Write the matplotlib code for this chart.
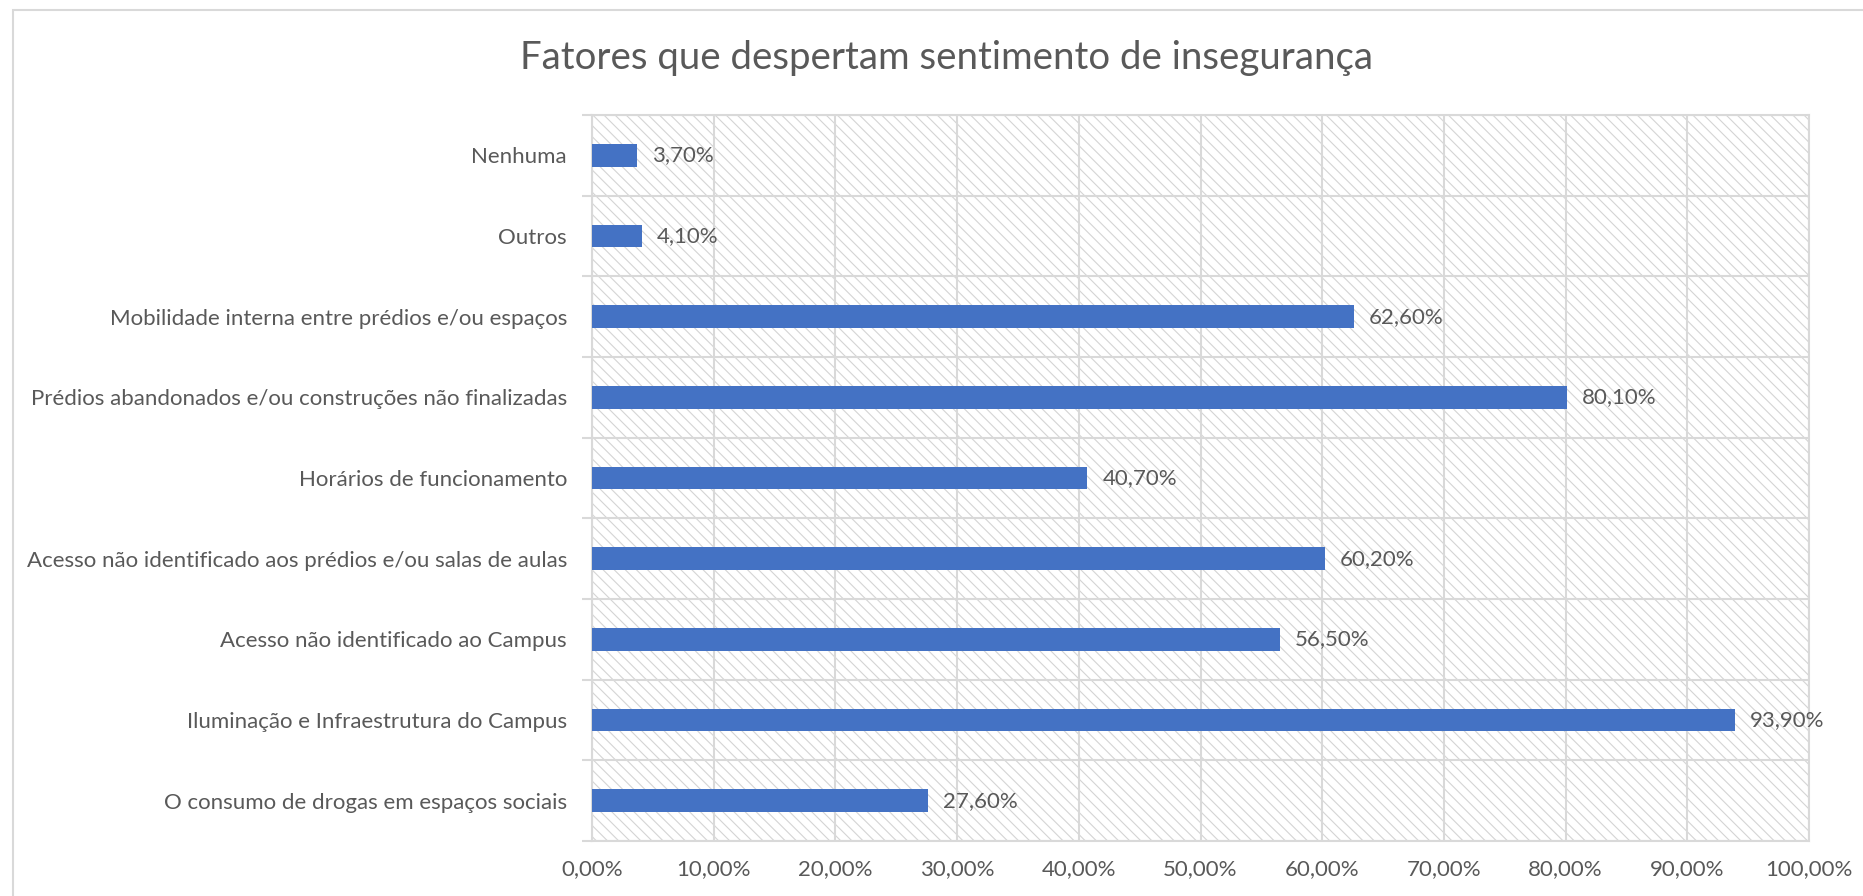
import matplotlib
matplotlib.use("Agg")
import matplotlib.pyplot as plt
from matplotlib.patches import Rectangle
from matplotlib.ticker import FixedLocator, FuncFormatter

categories = [
    "O consumo de drogas em espaços sociais",
    "Iluminação e Infraestrutura do Campus",
    "Acesso não identificado ao Campus",
    "Acesso não identificado aos prédios e/ou salas de aulas",
    "Horários de funcionamento",
    "Prédios abandonados e/ou construções não finalizadas",
    "Mobilidade interna entre prédios e/ou espaços",
    "Outros",
    "Nenhuma",
]
values = [27.60, 93.90, 56.50, 60.20, 40.70, 80.10, 62.60, 4.10, 3.70]
xticks = [0, 10, 20, 30, 40, 50, 60, 70, 80, 90, 100]
title = "Fatores que despertam sentimento de insegurança"

plt.rcParams['font.family'] = ['Lato', 'DejaVu Sans']
plt.rcParams['hatch.linewidth'] = 0.8

TXT = '#595959'
GRID = '#d9d9d9'
BAR = '#4472C4'

fig = plt.figure(figsize=(18.63, 8.96), dpi=100)
fig.patch.set_facecolor('white')

# outer chart border (only top and left visible)
fig.add_artist(Rectangle((13/1863, -0.05), 1.2, 1 - 10/896 + 0.05,
                         transform=fig.transFigure, fill=False,
                         edgecolor=GRID, linewidth=1.5))

ax = fig.add_axes([592/1863, 1 - 841/896, (1809 - 592)/1863, (841 - 115)/896])

# hatched plot area background
ax.add_patch(Rectangle((0, 0), 1, 1, transform=ax.transAxes,
                       facecolor='white', edgecolor='#d4d4d4',
                       hatch='\\\\\\', linewidth=0, zorder=0))

y = list(range(len(categories)))
ax.barh(y, values, height=0.28, color=BAR, zorder=3)

for yi, v in zip(y, values):
    ax.annotate(f"{v:.2f}%".replace('.', ','), (v, yi), xytext=(15, 0),
                textcoords='offset pixels', va='center', ha='left',
                fontsize=16, color=TXT, zorder=4)

ax.set_xlim(0, 100)
ax.set_ylim(-0.5, len(categories) - 0.5)
ax.set_xticks(xticks)
ax.xaxis.set_major_formatter(FuncFormatter(lambda x, p: f"{x:.2f}%".replace('.', ',')))
ax.set_yticks(y)
ax.set_yticklabels(categories)
ax.yaxis.set_minor_locator(FixedLocator([i - 0.5 for i in range(len(categories) + 1)]))

ax.tick_params(axis='x', length=0, labelsize=16, labelcolor=TXT, pad=13)
ax.tick_params(axis='y', which='major', length=0, labelsize=16, labelcolor=TXT, pad=18)
ax.tick_params(axis='y', which='minor', length=7, color=GRID, width=1.5)

ax.grid(axis='x', which='major', color=GRID, linewidth=1.5, zorder=1)
ax.grid(axis='y', which='minor', color=GRID, linewidth=1.5, zorder=1)
ax.set_axisbelow(True)

for s in ax.spines.values():
    s.set_color(GRID)
    s.set_linewidth(1.5)

fig.text(946/1863, 1 - 58/896, title, ha='center', va='center',
         fontsize=27.6, color=TXT)

fig.savefig('out.png', dpi=100)
